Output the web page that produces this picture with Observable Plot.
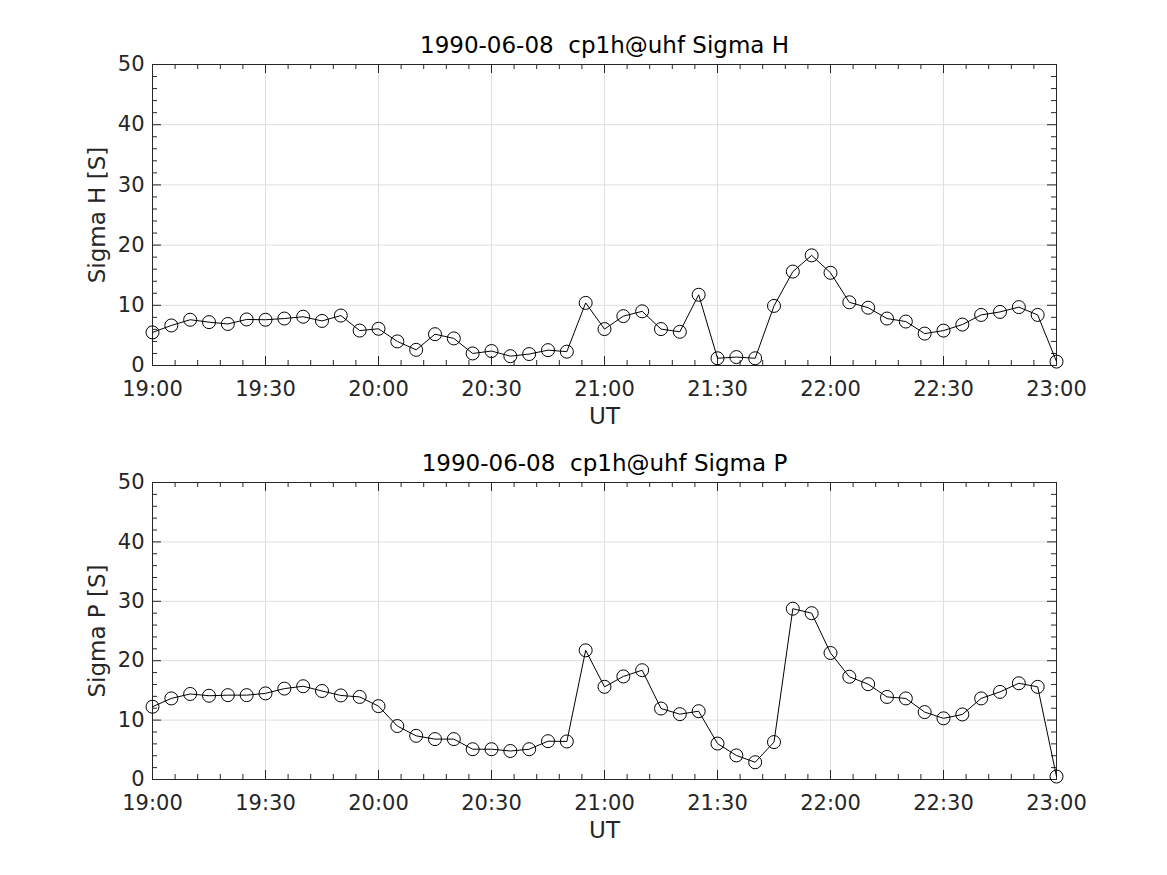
<!DOCTYPE html>
<html>
<head>
<meta charset="utf-8">
<script src="https://cdn.jsdelivr.net/npm/d3@7"></script>
<script src="https://cdn.jsdelivr.net/npm/@observablehq/plot@0.6"></script>
<style>
  html, body { margin: 0; padding: 0; background: #fff; }
  #chart svg { display: block; }
</style>
</head>
<body>
<div id="chart"></div>
<script>
// ---- Data ----
const timeLabels = [
  "19:00","19:05","19:10","19:15","19:20","19:25","19:30","19:35","19:40","19:45",
  "19:50","19:55","20:00","20:05","20:10","20:15","20:20","20:25","20:30","20:35",
  "20:40","20:45","20:50","20:55","21:00","21:05","21:10","21:15","21:20","21:25",
  "21:30","21:35","21:40","21:45","21:50","21:55","22:00","22:05","22:10","22:15",
  "22:20","22:25","22:30","22:35","22:40","22:45","22:50","22:55","23:00"
];
const sigmaH = [
  5.5, 6.65, 7.6, 7.2, 6.9, 7.65, 7.6, 7.8, 8.1, 7.4,
  8.3, 5.8, 6.1, 4.0, 2.6, 5.2, 4.5, 2.0, 2.4, 1.55,
  1.9, 2.55, 2.3, 10.4, 6.05, 8.2, 9.0, 6.05, 5.6, 11.75,
  1.2, 1.4, 1.2, 9.9, 15.6, 18.3, 15.4, 10.5, 9.6, 7.8,
  7.3, 5.3, 5.8, 6.8, 8.4, 8.9, 9.7, 8.4, 0.65
];
const sigmaP = [
  12.25, 13.65, 14.4, 14.1, 14.2, 14.2, 14.5, 15.3, 15.7, 14.9,
  14.15, 13.9, 12.35, 9.0, 7.35, 6.8, 6.8, 5.1, 5.1, 4.8,
  5.1, 6.45, 6.4, 21.75, 15.6, 17.35, 18.4, 11.95, 11.0, 11.5,
  6.05, 4.05, 2.9, 6.3, 28.75, 28.0, 21.3, 17.3, 16.05, 13.9,
  13.65, 11.35, 10.3, 10.95, 13.65, 14.75, 16.2, 15.6, 0.5
];
const xTickLabels = ["19:00","19:30","20:00","20:30","21:00","21:30","22:00","22:30","23:00"];
const xMinorLabels = [
  "19:06","19:12","19:18","19:24","19:36","19:42","19:48","19:54",
  "20:06","20:12","20:18","20:24","20:36","20:42","20:48","20:54",
  "21:06","21:12","21:18","21:24","21:36","21:42","21:48","21:54",
  "22:06","22:12","22:18","22:24","22:36","22:42","22:48","22:54"
];
const yTicks = [0, 10, 20, 30, 40, 50];
const yMinor = [2,4,6,8,12,14,16,18,22,24,26,28,32,34,36,38,42,44,46,48];
const dateLabel = "1990-06-08";
const expLabel = "cp1h@uhf";

// ---- Helpers ----
const toMin = (s) => { const [h, m] = s.split(":").map(Number); return h * 60 + m; };

function panel({values, title, ylabel, height, mt, mb}) {
  const W = 1167, ml = 152, mr = 1167 - 1056;
  const pw = W - ml - mr, ph = height - mt - mb;
  const data = timeLabels.map((t, i) => ({x: toMin(t), y: values[i]}));
  const axisColor = "#262626";
  const fs = 21, lfs = 23;
  return Plot.plot({
    width: W, height,
    marginLeft: ml, marginRight: mr, marginTop: mt, marginBottom: mb,
    style: {fontFamily: "DejaVu Sans", fontSize: fs + "px", background: "#fff", overflow: "visible"},
    x: {domain: [toMin(xTickLabels[0]), toMin(xTickLabels[xTickLabels.length - 1])], axis: null},
    y: {domain: [0, 50], axis: null},
    marks: [
      // grid
      Plot.ruleX(xTickLabels, {x: toMin, stroke: "#dedede", strokeWidth: 1}),
      Plot.ruleY(yTicks, {y: d => d, stroke: "#dedede", strokeWidth: 1}),
      // inward ticks: x bottom/top
      Plot.ruleX(xTickLabels, {x: toMin, stroke: axisColor, insetTop: ph - 9}),
      Plot.ruleX(xTickLabels, {x: toMin, stroke: axisColor, insetBottom: ph - 9}),
      Plot.ruleX(xMinorLabels, {x: toMin, stroke: axisColor, insetTop: ph - 5}),
      Plot.ruleX(xMinorLabels, {x: toMin, stroke: axisColor, insetBottom: ph - 5}),
      // inward ticks: y left/right
      Plot.ruleY(yTicks, {y: d => d, stroke: axisColor, insetRight: pw - 9}),
      Plot.ruleY(yTicks, {y: d => d, stroke: axisColor, insetLeft: pw - 9}),
      Plot.ruleY(yMinor, {y: d => d, stroke: axisColor, insetRight: pw - 5}),
      Plot.ruleY(yMinor, {y: d => d, stroke: axisColor, insetLeft: pw - 5}),
      Plot.frame({stroke: axisColor, strokeWidth: 1}),
      // series
      Plot.line(data, {x: "x", y: "y", stroke: "#000", strokeWidth: 1}),
      Plot.dot(data, {x: "x", y: "y", r: 6.5, stroke: "#000", fill: "none", strokeWidth: 1}),
      // tick labels
      Plot.text(xTickLabels, {x: toMin, text: d => d, frameAnchor: "bottom", lineAnchor: "top", dy: 16, fill: axisColor, fontSize: fs}),
      Plot.text(yTicks, {y: d => d, text: d => String(d), frameAnchor: "left", textAnchor: "end", dx: -8, fill: axisColor, fontSize: fs}),
      // axis labels
      Plot.text(["UT"], {frameAnchor: "bottom", lineAnchor: "top", dy: 42, fill: axisColor, fontSize: lfs}),
      Plot.text([ylabel], {frameAnchor: "left", rotate: -90, textAnchor: "middle", lineAnchor: "middle", dx: -55, fill: axisColor, fontSize: lfs}),
      // title
      Plot.text([title], {frameAnchor: "top", lineAnchor: "middle", dy: -19, fill: "#000", fontSize: lfs})
    ]
  });
}

const chart = document.getElementById("chart");
chart.append(panel({values: sigmaH, title: dateLabel + "\u00a0 " + expLabel + " Sigma H", ylabel: "Sigma H [S]", height: 437, mt: 64, mb: 72}));
chart.append(panel({values: sigmaP, title: dateLabel + "\u00a0 " + expLabel + " Sigma P", ylabel: "Sigma P [S]", height: 438, mt: 45, mb: 96}));
</script>
</body>
</html>
